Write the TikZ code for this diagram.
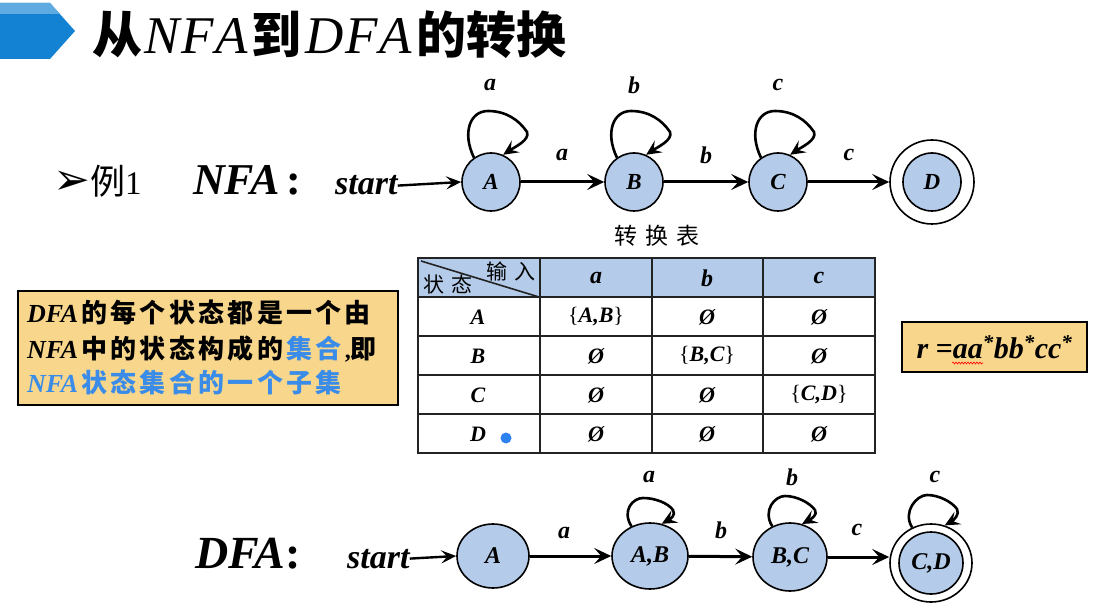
\documentclass[tikz,border=0pt]{standalone}
\usepackage{fontspec}
\setmainfont{Liberation Serif}
\newfontfamily\cjk{Noto Sans CJK SC}
\newfontfamily\dv{DejaVu Sans}
\usetikzlibrary{arrows.meta,shapes.geometric,calc,decorations.pathmorphing}
\definecolor{stfill}{RGB}{180,204,234}
\definecolor{yel}{RGB}{248,215,140}
\definecolor{tblue}{RGB}{58,140,232}
\definecolor{bandA}{RGB}{20,130,210}
\definecolor{bandB}{RGB}{95,170,225}
\definecolor{dotc}{RGB}{45,130,240}
\definecolor{gridc}{RGB}{35,35,35}
\newcommand\fs[1]{\fontsize{#1}{#1}\selectfont}
\newcommand\bi[1]{{\bfseries\itshape #1}}
\newlength\chsp
\setlength\chsp{3.3pt}
\def\spc#1{\spcA#1\relax}
\def\spcA#1{\ifx#1\relax\else#1\hskip\chsp\relax\expandafter\spcA\fi}
\begin{document}
\begin{tikzpicture}[x=1pt,y=-1pt,
  st/.style={circle,draw,line width=1.6pt,fill=stfill,minimum size=58pt,inner sep=0pt,font=\fs{23}\bfseries\itshape},
  dst/.style={ellipse,draw,line width=1.6pt,fill=stfill,inner sep=0pt,font=\fs{24}\bfseries\itshape},
  tr/.style={line width=3pt,-{Stealth[length=17pt,width=16pt,inset=7pt]}},
  lp/.style={line width=2.6pt,-{Stealth[length=15pt,width=14pt,inset=6pt]}},
  sa/.style={line width=2.4pt,-{Stealth[length=15pt,width=13pt,inset=6pt]}},
  lab/.style={font=\fs{24}\bfseries\itshape,inner sep=0pt},
  cell/.style={font=\fs{22}\bfseries\itshape,inner sep=0pt},
  hcell/.style={font=\fs{24}\bfseries\itshape,inner sep=0pt},
  tline/.style={line width=2.2pt,draw=gridc},
  txt/.style={anchor=base west,inner sep=0pt},
]
\useasboundingbox (0,0) rectangle (1097,609);
\fill[white] (0,0) rectangle (1097,609);

% title banner
\fill[bandA] (0,3) -- (50,3) -- (75,31) -- (50,59) -- (0,59) -- cycle;
\fill[bandB] (0,3) -- (50,3) -- (60,14) -- (0,14) -- cycle;
\node[txt] (title) at (92,54) {{\cjk\bfseries\fs{50}从}\hspace{2pt}{\fs{53}\itshape N\hspace{2pt}F\hspace{2pt}A}\hspace{3pt}{\cjk\bfseries\fs{50}到}\hspace{4pt}{\fs{53}\itshape D\hspace{2pt}F\hspace{2pt}A}\hspace{4pt}{\cjk\bfseries\fs{50}的转换}};

% NFA line
\node[txt] (ex) at (53,195) {{\dv\bfseries\fs{44}➢}{\cjk\fs{35}例}{\fs{33}1}};
\node[txt] (nl) at (193,195) {\fs{44}\bi{NFA}\,{\bfseries :}};
\node[txt] (st1) at (335,195) {\fs{34}\bi{start}};

\node[st] (A) at (491,182) {A};
\node[st] (B) at (634,182) {B};
\node[st] (C) at (778,182) {C};
\node[circle,draw,line width=1.6pt,fill=white,minimum size=84pt,inner sep=0pt] (Do) at (932,182) {};
\node[st] (D) at (932,182) {D};

\draw[sa] (st1.east) -- (A.west);
\draw[tr] (A) -- (B);
\draw[tr] (B) -- (C);
\draw[tr] (C) -- (Do);
\node[lab] (la) at (562,155) {a};
\node[lab] (lb) at (706,155) {b};
\node[lab] (lc) at (849,155) {c};

\foreach \n in {A,B,C}{
  \draw[lp] (\n.125) .. controls +(-12,-25) and +(-18,0) .. ($(\n)+(-3,-71)$)
     .. controls +(18,0) and +(-8,-12) .. ($(\n)+(36,-50)$)
     .. controls +(3,8) and +(12,-8) .. (\n.66);
}
\node[lab] (lla) at (490,85) {a};
\node[lab] (llb) at (634,85) {b};
\node[lab] (llc) at (778,85) {c};

% transition table
\node[inner sep=0pt] (ttl) at (657,236) {\cjk\fs{23}转\hspace{8pt}换\hspace{8pt}表};
\fill[stfill] (418,258) rectangle (875,297);
\draw[tline] (418,258) rectangle (875,453);
\foreach \x in {540,652,763} \draw[tline] (\x,258) -- (\x,453);
\foreach \y in {297,336,375,414} \draw[tline] (418,\y) -- (875,\y);
\draw[line width=1.6pt,draw=gridc] (421,261) -- (539,297);
\node[inner sep=0pt] (hin) at (511,271) {\cjk\fs{21}输\hspace{8pt}入};
\node[inner sep=0pt] (hst) at (448,284) {\cjk\fs{21}状\hspace{8pt}态};
\node[hcell] (ha) at (596,278) {a};
\node[hcell] (hb) at (707,278) {b};
\node[hcell] (hc) at (819,278) {c};
\node[cell] (rA) at (478,317) {A};
\node[cell] (rB) at (478,356) {B};
\node[cell] (rC) at (478,395) {C};
\node[cell] (rD) at (478,434) {D};
\node[cell] (c11) at (596,317) {{\normalfont\{}A,B{\normalfont\}}};
\node[cell] (c12) at (707,317) {Ø};
\node[cell] (c13) at (819,317) {Ø};
\node[cell] (c21) at (596,356) {Ø};
\node[cell] (c22) at (707,356) {{\normalfont\{}B,C{\normalfont\}}};
\node[cell] (c23) at (819,356) {Ø};
\node[cell] (c31) at (596,395) {Ø};
\node[cell] (c32) at (707,395) {Ø};
\node[cell] (c33) at (819,395) {{\normalfont\{}C,D{\normalfont\}}};
\node[cell] (c41) at (596,434) {Ø};
\node[cell] (c42) at (707,434) {Ø};
\node[cell] (c43) at (819,434) {Ø};
\fill[dotc] (506,438) circle (5.5);

% yellow note
\node[draw,line width=1.6pt,fill=yel,minimum width=380pt,minimum height=114pt,anchor=north west,inner sep=0pt] (note) at (17,290) {};
\node[txt] (n1) at (27,323) {{\fs{26}\bi{DFA}}\hspace{3pt}{\cjk\bfseries\fs{26}\spc{的每个状态都是一个由}}};
\node[txt] (n2) at (27,358) {{\fs{26}\bi{NFA}}\hspace{3pt}{\cjk\bfseries\fs{26}\spc{中的状态构成的}\textcolor{tblue}{\spc{集合}}}{\fs{24}\bfseries ,}{\cjk\bfseries\fs{26}即}};
\node[txt,text=tblue] (n3) at (27,392) {{\fs{26}\bi{NFA}}\hspace{3pt}{\cjk\bfseries\fs{26}\spc{状态集合的一个子集}}};

% regex box
\node[draw,line width=2pt,fill=yel,minimum width=185pt,minimum height=50pt,inner sep=0pt] (re) at (994.5,347) {\fs{30}\bi{r =aa\textsuperscript{*}bb\textsuperscript{*}cc\textsuperscript{*}}};
\draw[red,line width=0.6pt,decorate,decoration={snake,amplitude=1pt,segment length=3pt}] (952,363) -- (983,363);

% DFA line
\node[txt] (dl) at (195,568) {\fs{46}\bi{DFA}{\bfseries :}};
\node[txt] (st2) at (347,568) {\fs{34}\bi{start}};

\node[dst,minimum width=72pt,minimum height=64pt] (dA) at (493,556) {A};
\node[dst,minimum width=76pt,minimum height=66pt] (dAB) at (650,556) {A,B};
\node[dst,minimum width=74pt,minimum height=68pt] (dBC) at (790,557) {B,C};
\node[ellipse,draw,line width=1.6pt,fill=white,minimum width=82pt,minimum height=78pt,inner sep=0pt] (dCDo) at (931,563) {};
\node[dst,minimum width=64pt,minimum height=62pt] (dCD) at (931,563) {C,D};

\draw[sa] (st2.east) -- (dA.west);
\draw[tr] (dA) -- (dAB);
\draw[tr] (dAB) -- (dBC);
\draw[tr] (dBC.east) -- (dBC.east -| dCDo.west);
\node[lab] (dla) at (564,533) {a};
\node[lab] (dlb) at (721,530) {b};
\node[lab] (dlc) at (857,530) {c};

\draw[lp] (dAB.122) .. controls +(-10,-16) and +(-10,0) .. ($(dAB)+(-7,-58)$)
   .. controls +(12,0) and +(-5,-7) .. ($(dAB)+(23,-46)$)
   .. controls +(3,5) and +(9,-5) .. (dAB.70);
\draw[lp] (dBC.120) .. controls +(-10,-16) and +(-10,0) .. ($(dBC)+(-5,-61)$)
   .. controls +(12,0) and +(-5,-7) .. ($(dBC)+(25,-47)$)
   .. controls +(3,5) and +(9,-5) .. (dBC.70);
\draw[lp] (dCDo.118) .. controls +(-10,-16) and +(-10,0) .. ($(dCDo)+(-4,-68)$)
   .. controls +(12,0) and +(-5,-7) .. ($(dCDo)+(26,-54)$)
   .. controls +(3,5) and +(9,-5) .. (dCDo.70);
\node[lab] (dlla) at (649,477) {a};
\node[lab] (dllb) at (792,477) {b};
\node[lab] (dllc) at (935,477) {c};
\end{tikzpicture}
\end{document}
